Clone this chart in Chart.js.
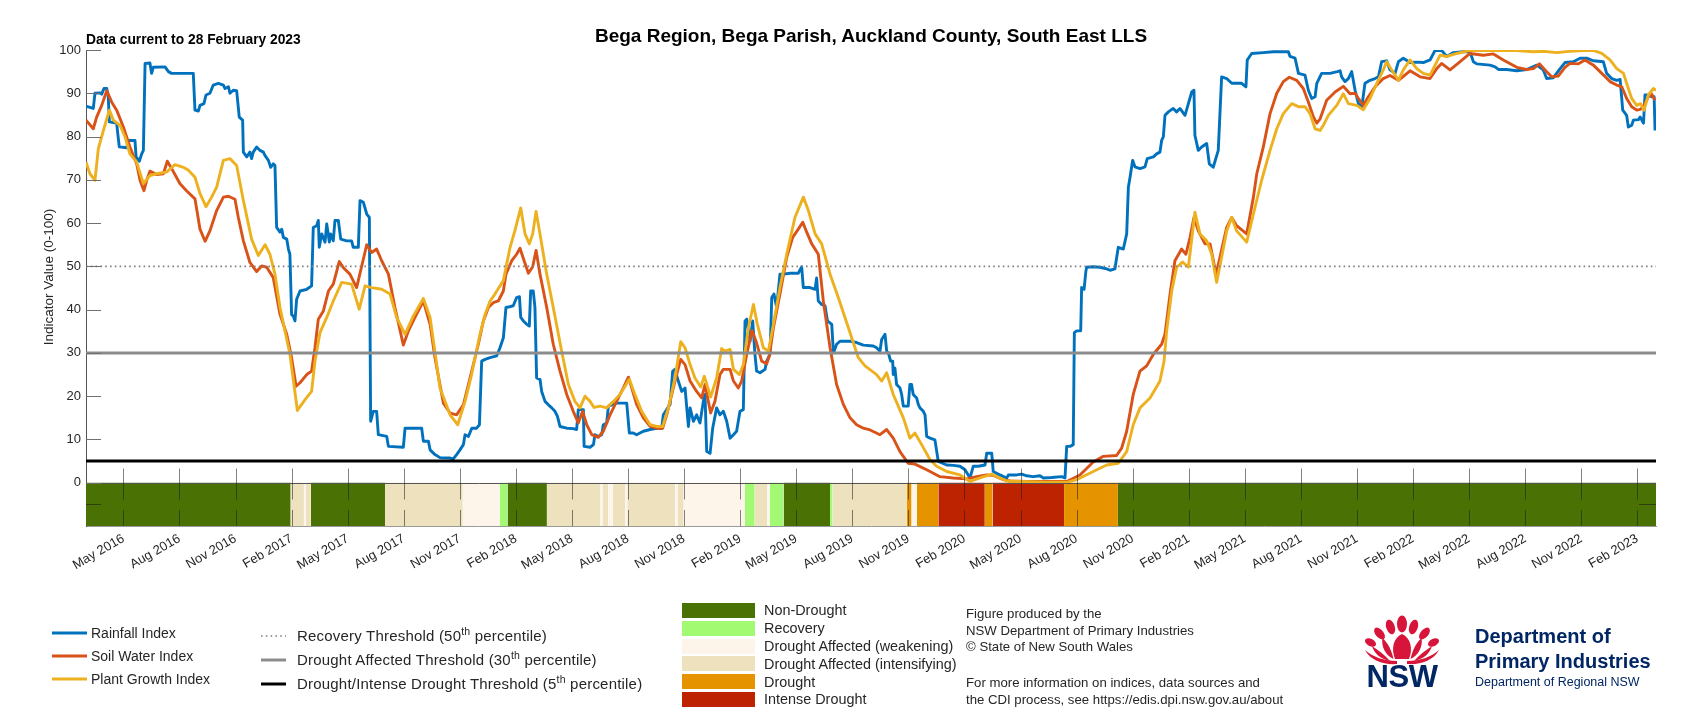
<!DOCTYPE html>
<html>
<head>
<meta charset="utf-8">
<script src="https://cdn.jsdelivr.net/npm/chart.js@4.4.0/dist/chart.umd.min.js"></script>
<style>
  html, body { margin: 0; padding: 0; background: #fff; }
  #wrap { position: relative; width: 1707px; height: 720px; overflow: hidden; font-family: "Liberation Sans", Arial, Helvetica, sans-serif; color: #000; }
  #c { position: absolute; left: 0; top: 0; }
  .t { position: absolute; white-space: nowrap; }
  sup { font-size: 0.7em; vertical-align: 0.55em; line-height: 0; }
</style>
</head>
<body>
<div id="wrap">
  <canvas id="c" width="1707" height="720"></canvas>
  <div class="t" style="left:0;width:1742px;text-align:center;top:24px;font-size:19px;font-weight:bold;line-height:23px;">Bega Region, Bega Parish, Auckland County, South East LLS</div>
  <div class="t" style="left:86px;top:32px;font-size:13.8px;font-weight:bold;line-height:16px;">Data current to 28 February 2023</div>
  <div class="t" style="left:-51px;width:200px;text-align:center;top:269px;font-size:13.5px;line-height:16px;color:#262626;transform:rotate(-90deg);">Indicator Value (0-100)</div>
  <div id="legends"></div>
  <svg class="t" style="left:1360px;top:612px;" width="84" height="80" viewBox="0 0 84 80">
    <g fill="#D7153A">
      <ellipse cx="42" cy="12" rx="5" ry="8.5"/>
      <ellipse cx="30.5" cy="15" rx="4.3" ry="7.5" transform="rotate(-18 30.5 15)"/>
      <ellipse cx="53.5" cy="15" rx="4.3" ry="7.5" transform="rotate(18 53.5 15)"/>
      <ellipse cx="19.5" cy="21.5" rx="4" ry="7" transform="rotate(-40 19.5 21.5)"/>
      <ellipse cx="64.5" cy="21.5" rx="4" ry="7" transform="rotate(40 64.5 21.5)"/>
      <ellipse cx="10.5" cy="30.5" rx="3.6" ry="6" transform="rotate(-62 10.5 30.5)"/>
      <ellipse cx="73.5" cy="30.5" rx="3.6" ry="6" transform="rotate(62 73.5 30.5)"/>
      <path d="M42 22 C33 26 31 37 35 47 L49 47 C53 37 51 26 42 22 Z"/>
      <path d="M33.5 47 C25 43 21 34 22.5 26 C28 31 31.5 38 33.5 47 Z"/>
      <path d="M50.5 47 C59 43 63 34 61.5 26 C56 31 52.5 38 50.5 47 Z"/>
      <path d="M30 49 C20 47 14 41 12 34 C18 38 25 43 30 49 Z"/>
      <path d="M54 49 C64 47 70 41 72 34 C66 38 59 43 54 49 Z"/>
      <path d="M5 38 C11 49 24 53 37 52 L37 49 C24 49 13 45 5 38 Z"/>
      <path d="M79 38 C73 49 60 53 47 52 L47 49 C60 49 71 45 79 38 Z"/>
    </g>
    <text x="42" y="75" text-anchor="middle" font-family="Liberation Sans, Arial, sans-serif" font-weight="bold" font-size="31" fill="#002664" letter-spacing="-0.5">NSW</text>
  </svg>
  <div class="t" style="left:1475px;top:626px;font-size:20px;font-weight:bold;line-height:20px;color:#002664;">Department of</div>
  <div class="t" style="left:1475px;top:651px;font-size:20px;font-weight:bold;line-height:20px;color:#002664;">Primary Industries</div>
  <div class="t" style="left:1475px;top:676px;font-size:12.5px;line-height:13px;color:#002664;">Department of Regional NSW</div>
</div>
<script>
// x values are months since January 2016 (fractional); y values are index values (0-100)
const rainfallIndex = [[2.00,87.0],[2.39,86.5],[2.48,90.0],[2.75,90.1],[2.84,89.8],[2.96,91.1],[3.11,91.1],[3.19,89.2],[3.25,83.4],[3.64,83.1],[3.73,79.5],[3.78,77.6],[4.18,77.4],[4.26,79.1],[4.62,79.1],[4.68,75.3],[4.85,74.3],[4.98,76.0],[5.07,76.8],[5.16,96.9],[5.42,97.0],[5.51,94.6],[5.60,96.0],[6.23,96.1],[6.41,95.0],[6.58,94.6],[7.74,94.6],[7.83,86.1],[8.01,85.9],[8.10,87.2],[8.31,87.6],[8.42,89.6],[8.63,90.0],[8.81,91.9],[9.08,92.3],[9.35,91.9],[9.44,91.1],[9.62,91.5],[9.70,90.0],[9.88,90.7],[10.06,90.6],[10.20,84.5],[10.38,83.8],[10.42,76.4],[10.60,75.3],[10.77,76.4],[10.86,74.9],[10.95,76.4],[11.13,77.6],[11.31,76.8],[11.49,76.4],[11.58,75.6],[11.76,74.5],[11.88,72.9],[12.02,73.7],[12.11,73.3],[12.20,59.0],[12.38,57.9],[12.47,58.6],[12.56,56.7],[12.74,56.3],[12.83,54.0],[12.91,52.8],[13.00,38.9],[13.09,38.5],[13.18,37.4],[13.27,42.4],[13.45,44.3],[13.81,44.7],[14.07,45.5],[14.16,59.0],[14.34,59.4],[14.43,60.6],[14.48,54.4],[14.61,57.5],[14.79,55.6],[14.88,59.8],[15.02,55.6],[15.09,57.5],[15.23,55.9],[15.32,60.6],[15.50,60.6],[15.63,56.3],[15.95,55.9],[16.21,55.9],[16.30,54.4],[16.57,54.4],[16.66,65.2],[16.84,64.8],[17.02,62.1],[17.16,61.3],[17.23,14.2],[17.37,16.5],[17.55,16.5],[17.64,11.1],[18.09,10.7],[18.18,8.4],[18.98,8.2],[19.07,12.6],[19.96,12.6],[20.05,9.6],[20.32,9.6],[20.41,7.6],[20.67,6.5],[20.94,5.8],[21.48,5.7],[21.65,5.5],[21.83,6.5],[22.01,7.6],[22.19,8.8],[22.28,11.1],[22.46,10.7],[22.64,12.6],[22.90,12.6],[23.05,13.4],[23.17,28.1],[23.35,28.5],[23.62,28.9],[23.97,29.3],[24.15,31.2],[24.33,33.5],[24.47,40.5],[24.60,40.6],[24.86,40.9],[25.04,42.8],[25.19,43.0],[25.26,38.2],[25.40,37.4],[25.58,36.6],[25.72,36.2],[25.79,44.3],[25.93,44.3],[26.02,40.5],[26.11,24.2],[26.29,23.9],[26.38,21.1],[26.56,18.8],[26.74,18.0],[26.92,17.3],[27.09,16.5],[27.22,15.4],[27.36,13.0],[27.72,12.6],[28.07,12.5],[28.25,12.3],[28.34,16.9],[28.61,16.9],[28.65,8.4],[28.97,8.2],[29.15,8.8],[29.23,11.1],[29.41,10.7],[29.59,11.1],[29.68,13.4],[29.86,13.8],[29.95,17.7],[30.22,18.1],[30.39,18.4],[30.93,18.4],[31.07,11.5],[31.28,11.5],[31.46,11.1],[31.82,11.9],[32.18,12.3],[32.53,12.6],[32.80,12.6],[32.89,15.7],[33.25,18.1],[33.39,25.8],[33.51,26.2],[33.69,23.5],[33.87,21.1],[34.05,21.9],[34.23,13.0],[34.32,17.3],[34.50,14.2],[34.67,15.7],[34.85,13.8],[35.03,18.8],[35.12,20.4],[35.21,7.2],[35.39,6.8],[35.53,12.6],[35.74,17.3],[35.92,15.7],[36.10,16.5],[36.28,14.2],[36.46,10.3],[36.64,11.1],[36.81,11.9],[36.99,16.5],[37.17,16.9],[37.26,37.4],[37.35,37.8],[37.53,32.7],[37.67,37.4],[37.79,29.7],[37.88,25.8],[38.06,25.4],[38.33,26.2],[38.42,28.1],[38.60,29.7],[38.69,42.8],[38.81,43.6],[38.95,40.5],[39.13,48.2],[39.31,48.2],[39.67,48.4],[40.11,48.4],[40.29,49.9],[40.38,45.1],[40.74,45.1],[41.01,44.7],[41.09,47.3],[41.18,42.0],[41.36,41.2],[41.54,40.9],[41.67,37.4],[41.90,36.6],[41.99,30.0],[42.16,32.0],[42.34,32.7],[42.88,32.7],[43.23,32.4],[43.59,31.8],[44.12,31.6],[44.30,31.2],[44.48,30.4],[44.57,33.1],[44.75,34.3],[44.84,30.4],[44.93,30.0],[45.05,28.1],[45.16,28.1],[45.19,25.0],[45.28,26.5],[45.37,22.7],[45.55,21.9],[45.64,20.4],[45.73,17.7],[45.99,17.7],[46.08,22.7],[46.17,22.7],[46.26,20.4],[46.44,19.6],[46.53,18.1],[46.62,17.3],[46.80,16.5],[46.89,15.7],[46.98,10.7],[47.16,10.3],[47.42,9.9],[47.60,4.9],[48.05,4.1],[48.40,4.0],[48.76,3.8],[49.03,3.0],[49.30,1.1],[49.47,3.8],[49.74,3.8],[50.10,4.1],[50.19,6.8],[50.46,6.8],[50.54,2.6],[50.90,1.8],[51.26,1.1],[51.35,1.8],[51.79,1.8],[52.06,2.0],[52.33,1.6],[52.68,1.4],[53.04,1.6],[53.22,1.1],[53.66,1.2],[54.20,1.4],[54.38,1.1],[54.47,8.4],[54.65,8.4],[54.82,8.8],[54.88,34.7],[55.00,35.1],[55.22,35.1],[55.27,45.1],[55.40,44.7],[55.50,49.0],[55.54,49.8],[55.89,49.9],[56.25,49.8],[56.61,49.4],[56.79,49.1],[57.05,49.4],[57.23,54.4],[57.50,54.0],[57.68,57.5],[57.77,68.3],[57.86,70.6],[58.00,74.5],[58.12,73.0],[58.39,72.6],[58.66,73.0],[58.78,74.9],[59.11,75.3],[59.28,76.0],[59.46,76.4],[59.55,79.1],[59.64,79.9],[59.73,84.9],[59.91,85.7],[60.17,86.5],[60.35,85.7],[60.53,86.5],[60.80,84.9],[60.98,87.6],[61.16,90.3],[61.28,90.7],[61.33,80.3],[61.51,76.8],[61.69,77.6],[61.96,78.4],[62.10,73.7],[62.31,72.9],[62.58,76.8],[62.76,93.8],[63.03,93.4],[63.30,92.3],[63.83,92.3],[64.06,91.5],[64.13,97.7],[64.37,99.2],[64.99,99.4],[65.53,99.6],[66.33,99.6],[66.42,98.5],[66.69,98.1],[66.87,94.6],[67.22,94.2],[67.40,90.7],[67.58,88.8],[67.76,89.2],[67.85,92.3],[68.11,94.6],[68.56,94.6],[68.95,95.0],[69.10,95.2],[69.18,93.8],[69.36,92.7],[69.54,93.4],[69.72,95.0],[69.90,90.7],[70.08,87.6],[70.26,86.9],[70.43,92.3],[70.70,93.0],[70.97,93.4],[71.15,93.8],[71.32,97.3],[71.59,97.5],[71.77,95.4],[72.04,94.6],[72.22,97.3],[72.48,98.1],[72.84,97.1],[73.20,97.2],[73.55,97.1],[73.91,97.7],[74.18,99.9],[74.53,99.9],[74.80,98.5],[75.16,99.4],[75.69,99.6],[76.05,99.6],[76.23,97.3],[76.41,96.8],[77.12,96.5],[77.39,96.1],[77.57,95.5],[78.01,95.5],[78.55,95.2],[79.08,95.5],[79.62,96.5],[79.97,95.4],[80.15,93.4],[80.51,93.6],[80.87,95.7],[81.13,97.1],[81.58,97.3],[81.94,98.1],[82.29,98.1],[82.65,97.5],[83.18,97.3],[83.36,94.6],[83.63,93.4],[83.90,93.0],[84.08,93.2],[84.22,86.1],[84.43,84.9],[84.52,82.2],[84.70,82.6],[84.79,83.8],[85.06,83.9],[85.15,84.5],[85.33,83.1],[85.41,89.6],[85.59,89.6],[85.77,89.2],[85.90,89.2],[85.95,81.4]];

const soilWaterIndex = [[2.00,83.8],[2.39,81.8],[2.57,84.5],[2.84,87.2],[3.11,90.6],[3.37,88.0],[3.64,86.1],[4.00,82.2],[4.35,77.6],[4.71,73.7],[4.89,69.9],[5.10,67.5],[5.25,69.9],[5.42,72.0],[5.78,71.2],[6.14,71.4],[6.35,74.3],[6.58,72.6],[7.03,69.1],[7.39,67.4],[7.83,65.6],[8.10,58.6],[8.37,55.8],[8.63,58.2],[8.99,62.9],[9.35,66.0],[9.62,66.2],[9.97,65.5],[10.15,61.3],[10.42,55.9],[10.77,50.9],[11.13,48.8],[11.40,50.1],[11.67,49.8],[12.02,47.4],[12.38,38.9],[12.74,34.3],[13.00,28.9],[13.24,22.3],[13.45,23.1],[13.81,25.0],[14.07,25.8],[14.25,31.2],[14.43,37.8],[14.70,39.7],[14.97,44.3],[15.23,45.9],[15.55,51.1],[15.77,49.7],[16.12,48.2],[16.48,45.1],[17.02,55.0],[17.28,53.2],[17.55,54.0],[17.82,51.3],[18.18,48.2],[18.53,40.5],[18.98,31.8],[19.25,35.1],[19.60,38.2],[20.05,42.0],[20.41,36.6],[20.67,28.9],[21.12,18.4],[21.48,16.1],[21.83,15.7],[22.19,18.0],[22.46,22.7],[22.99,32.0],[23.26,37.4],[23.53,40.5],[23.79,41.6],[24.06,42.0],[24.33,44.3],[24.47,48.2],[24.78,51.3],[25.04,52.8],[25.22,54.2],[25.44,51.3],[25.67,48.4],[25.90,49.9],[26.08,53.7],[26.29,48.2],[26.65,40.5],[27.00,32.0],[27.36,25.8],[27.72,20.4],[28.07,16.5],[28.34,13.8],[28.57,16.5],[28.79,13.4],[29.06,11.1],[29.41,10.5],[29.68,11.9],[30.04,15.7],[30.39,18.8],[30.75,21.9],[31.02,24.4],[31.20,21.9],[31.46,18.1],[31.82,15.0],[32.18,13.0],[32.53,12.6],[32.85,12.6],[33.07,15.7],[33.34,20.4],[33.60,25.0],[33.82,28.5],[34.05,27.3],[34.32,23.5],[34.67,21.1],[34.94,19.6],[35.12,22.7],[35.42,16.1],[35.65,18.8],[35.92,25.0],[36.10,26.2],[36.46,26.2],[36.64,23.5],[36.90,21.9],[37.08,23.5],[37.35,29.7],[37.63,35.2],[37.85,32.7],[38.15,28.1],[38.42,27.5],[38.56,29.3],[38.78,35.8],[39.13,43.6],[39.49,52.1],[39.81,56.7],[40.11,58.6],[40.35,60.2],[40.56,57.9],[40.83,55.2],[41.18,52.8],[41.45,42.0],[41.81,31.2],[42.16,22.7],[42.52,18.1],[42.88,15.0],[43.23,13.4],[43.59,12.6],[43.95,12.2],[44.48,11.1],[44.84,12.3],[45.19,10.3],[45.55,7.2],[45.99,4.5],[46.35,4.3],[46.98,3.0],[47.69,1.4],[48.40,1.1],[49.12,0.9],[49.65,1.4],[50.19,1.8],[50.54,1.7],[51.08,0.7],[51.44,0.4],[52.33,0.3],[53.40,0.3],[54.47,0.3],[55.18,1.8],[55.89,4.8],[56.43,6.1],[57.14,6.3],[57.41,8.0],[57.68,11.9],[58.03,20.4],[58.39,25.8],[58.75,27.0],[59.11,29.7],[59.55,32.0],[59.73,34.3],[60.00,43.6],[60.26,51.3],[60.62,54.0],[60.85,52.8],[61.07,56.7],[61.28,61.3],[61.51,58.2],[61.87,55.2],[62.14,55.2],[62.46,48.2],[62.67,52.1],[63.03,59.0],[63.30,61.3],[63.56,59.4],[64.10,57.5],[64.46,66.0],[64.64,71.4],[64.99,77.6],[65.35,85.3],[65.71,90.0],[66.06,92.7],[66.38,93.7],[66.78,93.0],[67.13,91.1],[67.40,88.0],[67.67,84.5],[67.85,83.1],[68.03,84.1],[68.38,88.4],[68.83,90.3],[69.27,91.6],[69.63,89.9],[69.90,90.0],[70.08,88.8],[70.34,87.2],[70.61,89.2],[70.97,91.5],[71.41,93.4],[71.77,94.1],[72.22,93.0],[72.84,95.2],[73.38,93.8],[73.91,93.4],[74.27,95.7],[74.53,96.9],[74.98,95.4],[75.52,97.3],[76.05,99.2],[76.76,98.8],[77.30,99.1],[77.83,97.7],[78.55,96.0],[79.08,95.5],[79.44,95.7],[79.76,96.8],[80.15,95.0],[80.42,93.8],[80.78,94.0],[81.13,96.0],[81.40,96.9],[81.85,96.8],[82.20,97.7],[82.65,96.5],[83.10,94.6],[83.54,92.7],[83.90,91.9],[84.17,91.5],[84.43,88.8],[84.70,86.9],[84.97,86.1],[85.15,86.3],[85.33,86.9],[85.59,89.2],[85.77,89.8],[85.95,88.4]];

const plantGrowthIndex = [[2.00,74.1],[2.21,71.4],[2.48,69.9],[2.66,77.2],[2.93,81.4],[3.25,86.1],[3.46,83.8],[3.82,82.6],[4.09,79.9],[4.35,76.0],[4.71,74.1],[5.07,69.1],[5.42,71.0],[5.78,71.4],[6.32,71.8],[6.76,73.5],[7.21,72.9],[7.48,72.2],[7.83,70.6],[8.10,66.8],[8.42,63.8],[8.72,66.0],[8.99,68.3],[9.35,74.5],[9.70,74.9],[10.06,73.3],[10.42,65.2],[10.86,56.3],[11.22,52.5],[11.58,55.0],[11.84,52.8],[12.11,48.2],[12.38,40.5],[12.91,29.7],[13.31,16.7],[13.72,19.2],[14.07,21.1],[14.25,28.1],[14.52,34.7],[14.88,38.2],[15.23,42.0],[15.68,46.3],[16.21,45.9],[16.62,40.1],[16.93,45.5],[17.28,45.1],[17.82,44.7],[18.27,43.6],[18.62,38.2],[19.07,34.3],[19.51,38.5],[20.05,42.6],[20.41,38.2],[20.94,21.9],[21.48,15.7],[21.89,13.4],[22.28,18.8],[22.63,25.0],[23.08,34.3],[23.35,38.9],[23.62,42.0],[23.88,43.6],[24.33,46.7],[24.69,54.4],[24.95,58.3],[25.26,63.5],[25.49,57.5],[25.72,55.2],[25.90,57.5],[26.08,62.7],[26.29,57.5],[26.65,48.2],[27.00,40.5],[27.45,30.4],[27.81,22.7],[28.16,18.8],[28.43,17.3],[28.70,20.0],[28.97,18.8],[29.18,17.4],[29.50,17.7],[29.86,17.3],[30.22,18.8],[30.57,20.4],[31.07,23.9],[31.37,20.4],[31.73,16.5],[32.18,13.4],[32.53,13.0],[32.85,13.0],[33.16,17.3],[33.51,24.2],[33.82,32.6],[34.05,31.2],[34.32,27.3],[34.58,24.2],[34.89,22.1],[35.08,24.6],[35.42,19.8],[35.74,24.2],[36.01,31.0],[36.19,30.4],[36.46,30.8],[36.64,26.2],[36.96,25.0],[37.17,27.3],[37.44,35.8],[37.71,41.2],[37.92,36.6],[38.24,31.2],[38.51,30.4],[38.78,36.6],[39.13,45.1],[39.49,52.8],[39.93,61.3],[40.38,66.0],[40.65,62.9],[41.01,57.5],[41.36,55.2],[41.81,48.2],[42.25,42.8],[42.79,35.8],[43.32,28.9],[43.68,27.0],[44.30,25.0],[44.57,23.5],[44.84,25.4],[45.19,20.4],[45.73,15.0],[46.08,10.3],[46.35,11.5],[46.71,8.8],[47.16,5.3],[47.51,3.8],[48.05,2.6],[48.76,1.8],[49.30,0.3],[49.83,1.1],[50.46,2.0],[50.72,1.4],[51.26,0.4],[51.97,0.3],[53.40,0.1],[54.47,0.1],[55.00,0.7],[55.89,2.6],[56.61,4.1],[57.23,4.5],[57.68,7.2],[58.03,13.4],[58.39,17.3],[58.93,19.6],[59.46,23.5],[59.68,28.1],[59.82,35.1],[60.09,44.3],[60.35,49.8],[60.67,51.0],[60.98,49.8],[61.33,62.5],[61.60,57.5],[61.96,55.9],[62.23,52.8],[62.49,46.3],[62.76,52.1],[63.03,58.2],[63.30,61.3],[63.56,58.2],[64.10,55.6],[64.46,62.1],[64.90,69.9],[65.35,76.8],[65.71,81.8],[66.06,85.3],[66.51,87.6],[66.87,86.9],[67.22,86.9],[67.49,85.3],[67.76,81.8],[68.03,81.4],[68.20,82.6],[68.47,84.9],[68.92,87.2],[69.27,89.9],[69.54,87.6],[69.99,87.2],[70.34,86.2],[70.70,88.8],[71.06,92.3],[71.41,95.4],[71.59,97.3],[71.86,95.4],[72.22,93.0],[72.48,95.4],[72.84,97.7],[73.20,95.7],[73.55,94.6],[73.91,94.2],[74.18,96.5],[74.45,98.8],[74.80,98.5],[75.34,99.2],[76.05,99.9],[76.76,99.9],[77.83,99.9],[78.55,99.9],[79.44,99.6],[79.97,99.7],[80.69,99.4],[81.40,99.7],[82.12,99.9],[82.65,99.9],[83.10,99.2],[83.54,97.7],[83.90,95.7],[84.26,94.6],[84.43,92.3],[84.70,88.8],[84.97,87.2],[85.18,87.6],[85.36,86.1],[85.59,89.6],[85.86,91.1],[86.00,90.7]];

// Threshold levels
const thresholdNames = ['Recovery Threshold (50<sup>th</sup> percentile)', 'Drought Affected Threshold (30<sup>th</sup> percentile)', 'Drought/Intense Drought Threshold (5<sup>th</sup> percentile)'];
const thresholdValues = [50, 30, 5];

// Drought category band (segment start month, category index)
const categoryNames = ['Non-Drought', 'Recovery', 'Drought Affected (weakening)', 'Drought Affected (intensifying)', 'Drought', 'Intense Drought'];
const bandStart = [2.00,12.95,13.66,13.76,14.03,18.00,22.16,24.14,24.55,26.66,29.53,29.63,29.94,30.18,30.86,30.96,33.53,33.67,33.98,37.25,37.78,38.44,38.58,39.32,41.81,41.95,45.90,46.17,46.45,47.60,50.09,50.50,54.33,57.21];
const bandCategory = [0,3,2,3,0,3,2,1,0,3,2,3,2,3,2,3,2,3,2,1,3,2,1,0,1,3,4,2,4,5,4,5,4,0];
const dataEnd = 86.0;

// X axis ticks
const tickMonths = [4,7,10,13,16,19,22,25,28,31,34,37,40,43,46,49,52,55,58,61,64,67,70,73,76,79,82,85];
const tickLabels = ['May 2016','Aug 2016','Nov 2016','Feb 2017','May 2017','Aug 2017','Nov 2017','Feb 2018','May 2018','Aug 2018','Nov 2018','Feb 2019','May 2019','Aug 2019','Nov 2019','Feb 2020','May 2020','Aug 2020','Nov 2020','Feb 2021','May 2021','Aug 2021','Nov 2021','Feb 2022','May 2022','Aug 2022','Nov 2022','Feb 2023'];

// Styles
const seriesNames = ['Rainfall Index', 'Soil Water Index', 'Plant Growth Index'];
const seriesColours = ['#0072BD', '#D95319', '#EDB120'];
const thresholdColours = ['#808080', '#8c8c8c', '#000000'];
const categoryColours = ['#4A7104', '#A2FA72', '#FDF5EA', '#EDE1BE', '#E59400', '#BD2300'];

const FONT = '"Liberation Sans", Arial, Helvetica, sans-serif';
const xMin = 2, xMax = 86;
const pts = arr => arr.map(p => ({x: p[0], y: p[1]}));

const datasets = [];
thresholdValues.forEach((v, i) => {
  datasets.push({
    label: thresholdNames[i], data: [{x: xMin, y: v}, {x: xMax, y: v}],
    borderColor: thresholdColours[i], borderWidth: i === 0 ? 1.6 : 3,
    borderDash: i === 0 ? [1.6, 3.2] : [], pointRadius: 0, order: 0, fill: false
  });
});
[rainfallIndex, soilWaterIndex, plantGrowthIndex].forEach((s, i) => {
  datasets.push({
    label: seriesNames[i], data: pts(s), borderColor: seriesColours[i], borderWidth: 2.9,
    pointRadius: 0, tension: 0, order: 3 - i, fill: false, borderJoinStyle: 'round'
  });
});
bandStart.forEach((s, i) => {
  const e = i + 1 < bandStart.length ? bandStart[i + 1] : dataEnd;
  datasets.push({
    label: 'band' + i, data: [{x: s, y: 0}, {x: e, y: 0}],
    backgroundColor: categoryColours[bandCategory[i]], borderWidth: 0, borderColor: 'rgba(0,0,0,0)',
    pointRadius: 0, fill: 'start', order: 10
  });
});

const decor = {
  id: 'decor',
  afterDatasetsDraw(chart) {
    const {ctx, chartArea: a, scales: {x, y}} = chart;
    const ln = (x1, y1, x2, y2) => { ctx.beginPath(); ctx.moveTo(x1, y1); ctx.lineTo(x2, y2); ctx.stroke(); };
    ctx.save();
    const y0 = Math.round(y.getPixelForValue(0)) + 0.5;
    const yb = y.getPixelForValue(y.min);
    const ym = Math.round(y.getPixelForValue(y.min / 2)) + 0.5;
    ctx.lineWidth = 1;
    ctx.strokeStyle = '#555';
    ln(a.left, y0, a.right, y0);
    ctx.strokeStyle = 'rgba(30,30,30,0.55)';
    tickMonths.forEach(m => {
      const px = Math.round(x.getPixelForValue(m)) + 0.5;
      ln(px, y0 - 15, px, y0 + 16);
      ln(px, yb - 16, px, yb);
    });
    ctx.strokeStyle = '#707070';
    y.ticks.forEach(t => {
      if (t.value >= 0) {
        const py = Math.round(y.getPixelForValue(t.value)) + 0.5;
        ln(a.left, py, a.left + 15, py);
      }
    });
    ctx.strokeStyle = 'rgba(30,30,30,0.6)';
    ln(a.left, ym, a.left + 15, ym);
    ln(a.right - 17, ym, a.right, ym);
    ctx.restore();
  }
};

new Chart(document.getElementById('c'), {
  type: 'line',
  data: {datasets},
  plugins: [decor],
  options: {
    responsive: false, animation: false, devicePixelRatio: 1,
    layout: {padding: {top: 50, right: 51, left: 0, bottom: 0}},
    plugins: {legend: {display: false}, tooltip: {enabled: false}, title: {display: false}},
    scales: {
      x: {
        type: 'linear', min: xMin, max: xMax,
        afterFit: s => { s.height = 194; },
        afterBuildTicks: s => { s.ticks = tickMonths.map(v => ({value: v})); },
        grid: {display: false, drawTicks: false},
        border: {display: true, color: '#9a9a9a', width: 1},
        ticks: {autoSkip: false, minRotation: 30, maxRotation: 30, padding: 5,
          font: {family: FONT, size: 13}, color: '#262626',
          callback: (v, i) => tickLabels[i]}
      },
      y: {
        type: 'linear', min: -10, max: 100,
        afterFit: s => { s.width = 86; },
        grid: {display: false, drawTicks: false},
        border: {display: true, color: '#555', width: 1},
        ticks: {stepSize: 10, padding: 5, font: {family: FONT, size: 13}, color: '#262626',
          callback: v => (v < 0 ? '' : v)}
      }
    }
  }
});

// HTML legends built from the same arrays
const L = document.getElementById('legends');
const add = html => L.insertAdjacentHTML('beforeend', html);
const seriesY = [633, 656, 679];
seriesNames.forEach((n, i) => {
  add(`<svg class="t" style="left:52px;top:${seriesY[i]-3}px" width="35" height="6"><line x1="0" y1="3" x2="35" y2="3" stroke="${seriesColours[i]}" stroke-width="3"/></svg>`);
  add(`<div class="t" style="left:91px;top:${seriesY[i]-10}px;font-size:14px;line-height:20px;color:#262626">${n}</div>`);
});
const thrY = [636, 660, 684];
thresholdNames.forEach((n, i) => {
  const dash = i === 0 ? 'stroke-dasharray="1.6 3.2"' : '';
  add(`<svg class="t" style="left:261px;top:${thrY[i]-3}px" width="25" height="6"><line x1="0" y1="3" x2="25" y2="3" stroke="${thresholdColours[i]}" stroke-width="${i===0?1.6:3}" ${dash}/></svg>`);
  add(`<div class="t" style="left:297px;top:${thrY[i]-10}px;font-size:15px;letter-spacing:0.2px;line-height:20px;color:#262626">${n}</div>`);
});
const catY = [610, 628, 646, 663.5, 681.5, 699];
categoryNames.forEach((n, i) => {
  add(`<div class="t" style="left:682px;top:${catY[i]-7.5}px;width:73px;height:15px;background:${categoryColours[i]}"></div>`);
  add(`<div class="t" style="left:764px;top:${catY[i]-9}px;font-size:14.4px;line-height:18px;color:#262626">${n}</div>`);
});
const credits = ['Figure produced by the', 'NSW Department of Primary Industries', '\u00A9 State of New South Wales', 'For more information on indices, data sources and', 'the CDI process, see https://edis.dpi.nsw.gov.au/about'];
const credY = [614, 631, 647, 683, 700];
credits.forEach((t, i) => add(`<div class="t" style="left:966px;top:${credY[i]-9}px;font-size:13.2px;line-height:18px;color:#262626">${t}</div>`));
</script>
</body>
</html>
